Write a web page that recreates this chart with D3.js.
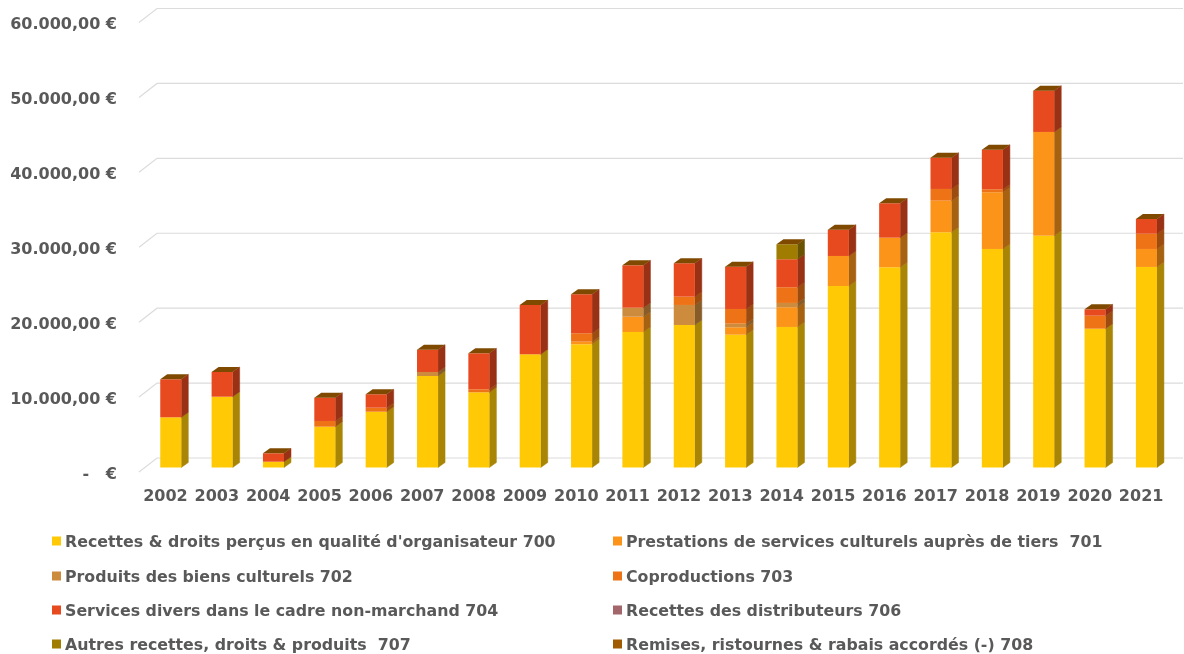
<!DOCTYPE html>
<html><head><meta charset="utf-8">
<script src="https://cdn.jsdelivr.net/npm/d3@7"></script>
<style>
html,body{margin:0;padding:0;background:#fff;overflow:hidden}
svg{display:block;filter:blur(0.45px)}
text{font-family:"DejaVu Sans",sans-serif;font-weight:700;fill:#595959}
</style></head><body><svg id="c" width="1184" height="654"></svg>
<script>
const years=[2002,2003,2004,2005,2006,2007,2008,2009,2010,2011,2012,2013,2014,2015,2016,2017,2018,2019,2020,2021];
const s700=[6700,9450,775,5450,7450,12215,10040,15110,16450,18090,19025,17730,18760,24230,26730,31400,29170,30945,18530,26770];
const s701=[0,0,0,0,0,0,0,0,350,2040,0,990,2630,4005,3950,4220,7570,13845,0,2400];
const s702=[0,0,0,0,0,535,0,0,0,1200,2670,480,575,0,0,0,0,0,0,0];
const s703=[0,0,0,760,535,0,400,0,1120,0,1110,1960,2095,0,0,1560,400,0,1735,2040];
const s704=[5075,3300,1120,3110,1790,2975,4805,6580,5205,5660,4460,5650,3740,3510,4590,4180,5285,5515,855,1960];
const s706=[0,0,0,0,0,0,0,0,0,0,0,0,0,0,0,0,0,0,0,0];
const s707=[0,0,0,0,0,0,0,0,0,0,0,0,2000,0,0,0,0,0,0,0];
const s708=[0,0,0,0,0,0,0,0,0,0,0,0,0,0,0,0,0,0,0,0];
const seriesValues=[s700,s701,s702,s703,s704,s706,s707,s708];
const seriesNames=["Recettes & droits perçus en qualité d'organisateur 700","Prestations de services culturels auprès de tiers  701","Produits des biens culturels 702","Coproductions 703","Services divers dans le cadre non-marchand 704","Recettes des distributeurs 706","Autres recettes, droits & produits  707","Remises, ristournes & rabais accordés (-) 708"];
const seriesColors=["#FFC906","#FB9419","#CC8B3D","#EE7316","#E84A1F","#A3666A","#A07D00","#A05A00"];
const capColor="#7F4A00";
const yTicks=[0,10000,20000,30000,40000,50000,60000];
const tickLabels=["-   €","10.000,00 €","20.000,00 €","30.000,00 €","40.000,00 €","50.000,00 €","60.000,00 €"];

const svg=d3.select("#c");
const yBack=d3.scaleLinear().domain([0,60000]).range([458,8.5]);
const yBar=d3.scaleLinear().domain([0,60000]).range([467.5,18]);
const x=d3.scaleBand().domain(years).range([145.1,1172.1]).paddingInner(.59).paddingOuter(.295);
const depthX=7,depthY=-5;

// gridlines
const grid=svg.append("g").attr("fill","none").attr("stroke","#DCDCDC").attr("stroke-width",1.2);
grid.selectAll("path").data(yTicks).join("path")
  .attr("d",t=>`M139,${yBack(t)+14}L157,${yBack(t)}L1183,${yBack(t)}`);

// y labels
const yAxis=d3.axisLeft(yBack).tickValues(yTicks).tickSize(0).tickPadding(0).tickFormat((d,i)=>tickLabels[i]);
const ga=svg.append("g").attr("transform","translate(117,14.5)").call(yAxis);
ga.select(".domain").remove();
ga.selectAll("text").style("font-size","16px").style("white-space","pre").attr("dy","0.36em");

// stacks
const rows=years.map((yr,i)=>{const o={year:yr};seriesValues.forEach((s,k)=>o["s"+k]=s[i]);return o;});
const stack=d3.stack().keys(seriesValues.map((_,k)=>"s"+k))(rows);
const g=svg.append("g");
stack.forEach((layer,k)=>{
  const col=seriesColors[k];
  const c=d3.rgb(col);
  const side=d3.rgb(c.r*.66,c.g*.66,c.b*.66).formatHex();
  const data=layer.filter(d=>d[1]>d[0]);
  g.append("g").selectAll("path").data(data).join("path").attr("fill",side).attr("stroke",side).attr("stroke-width",.5)
   .attr("d",d=>{const r=x(d.data.year)+x.bandwidth();
     return `M${r},${yBar(d[0])}L${r+depthX},${yBar(d[0])+depthY}L${r+depthX},${yBar(d[1])+depthY}L${r},${yBar(d[1])}Z`;});
  g.append("g").selectAll("rect").data(data).join("rect").attr("fill",col)
   .attr("x",d=>x(d.data.year)).attr("width",x.bandwidth())
   .attr("y",d=>yBar(d[1])).attr("height",d=>yBar(d[0])-yBar(d[1]));
});
// top caps
const topLayer=stack[stack.length-1];
g.append("g").selectAll("path").data(topLayer).join("path").attr("fill",capColor)
 .attr("d",d=>{const l=x(d.data.year),r=l+x.bandwidth(),t=yBar(d[1]);
   return `M${l},${t}L${l+depthX},${t+depthY}L${r+depthX},${t+depthY}L${r},${t}Z`;});

// x labels
const xAxis=d3.axisBottom(x).tickSize(0).tickPadding(0);
const gx=svg.append("g").attr("transform","translate(-5.3,490)").call(xAxis);
gx.select(".domain").remove();
gx.selectAll("text").style("font-size","16px").attr("dy","0.66em");

// legend
const legendX=[52,613],legendY=[541,576,610,644];
const lg=svg.append("g").selectAll("g").data(seriesNames).join("g")
  .attr("transform",(d,i)=>`translate(${legendX[i%2]},${legendY[Math.floor(i/2)]})`);
lg.append("rect").attr("x",0).attr("y",-4.5).attr("width",9).attr("height",9).attr("fill",(d,i)=>seriesColors[i]);
lg.append("text").attr("x",13).attr("dy","0.36em").style("font-size","15.8px").style("white-space","pre").text(d=>d);
</script></body></html>
